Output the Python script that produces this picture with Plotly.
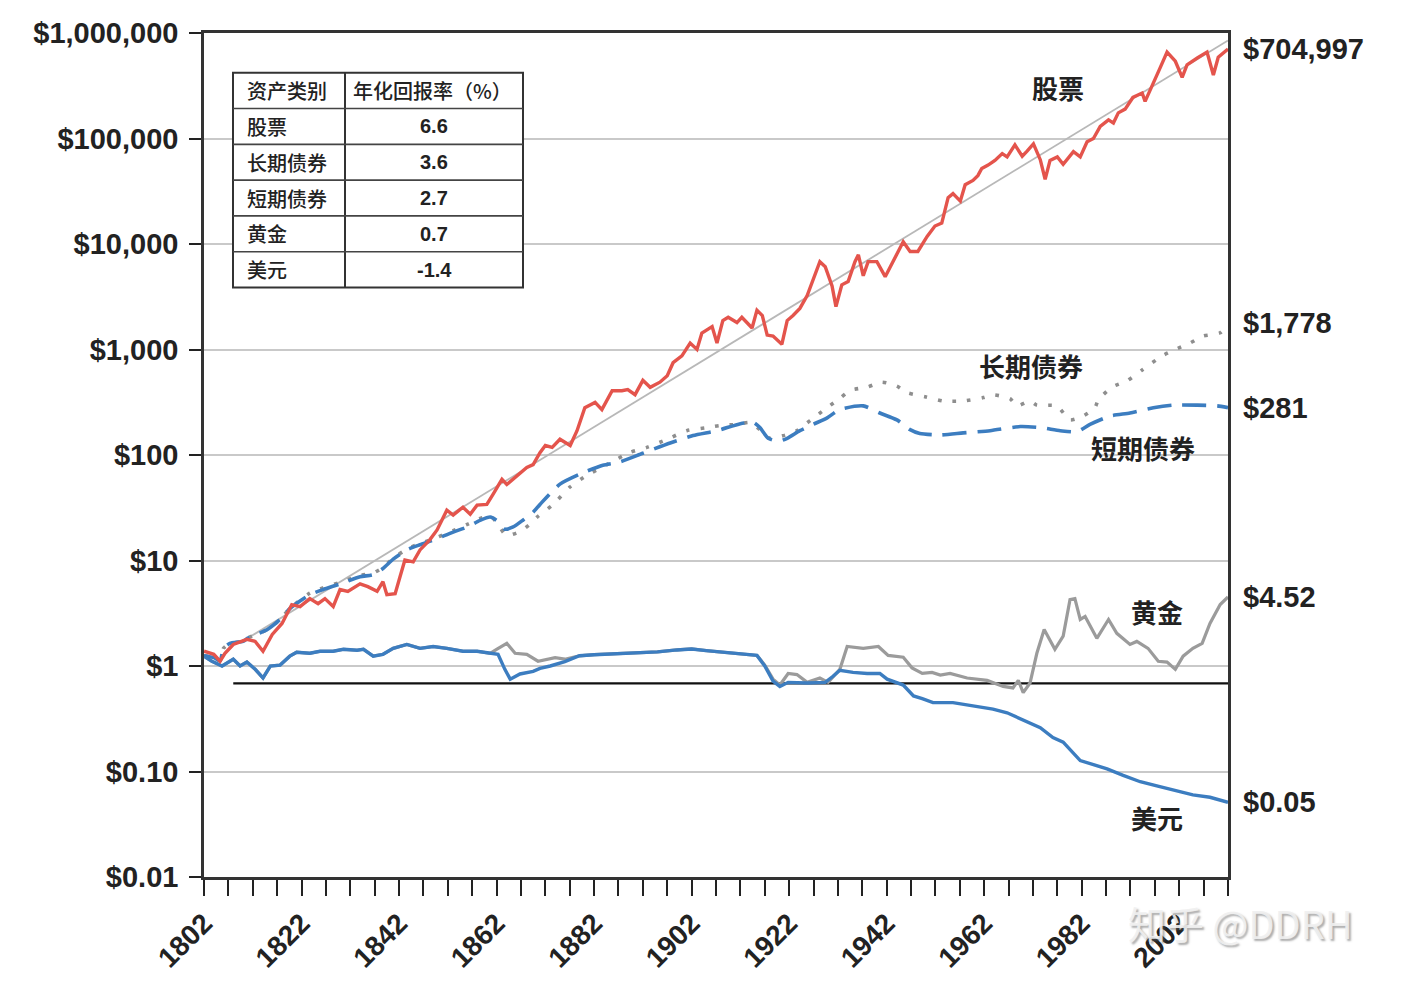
import math
import plotly.graph_objects as go

# ---------------- data ----------------
stock_years = [1802, 1804, 1805.3, 1806.3, 1808, 1810.8, 1812.5, 1814.1, 1816, 1818, 1820, 1821.7,
               1823.7, 1825.4, 1826.8, 1828.5, 1829.9, 1831.5, 1834, 1835.6, 1837.5, 1838.7, 1839.5,
               1841.2, 1842.2, 1843.2, 1844.9, 1846.3, 1848.3, 1849.8, 1851.8, 1853.1, 1855.1, 1856.6,
               1858, 1860, 1861.3, 1863.1, 1864.1, 1866.2, 1868.2, 1869.5, 1870.9, 1872, 1873.4, 1875,
               1877.1, 1878.5, 1880.1, 1882.2, 1883.6, 1885.7, 1887.7, 1888.9, 1890.4, 1892, 1893.5,
               1895.5, 1897, 1898.2, 1900, 1901.7, 1903.1, 1904.1, 1906.2, 1907.2, 1908.4, 1909.5,
               1911.3, 1912.3, 1914.4, 1915.4, 1916.5, 1917.5, 1918.7, 1920.5, 1921.6, 1922.8, 1924.2,
               1925.7, 1926.9, 1928.3, 1929.4, 1930.8, 1931.6, 1932.8, 1934.1, 1935.5, 1936.2, 1937.2,
               1938.2, 1940, 1941.7, 1943.3, 1945.4, 1946.8, 1948.4, 1950.3, 1951.9, 1953.3, 1954.6,
               1955.6, 1957.1, 1958.1, 1959.7, 1960.7, 1961.5, 1962.8, 1964.2, 1965.7, 1966.7, 1968.3,
               1969.8, 1970.8, 1972.1, 1973.5, 1974.5, 1975.5, 1977, 1978.2, 1980.3, 1981.7, 1983.1,
               1984.4, 1985.8, 1987.5, 1988.5, 1989.5, 1990.9, 1992.5, 1994.4, 1995, 1996.7, 1998.1,
               1999.5, 2001.2, 2002.6, 2003.6, 2005.7, 2007.7, 2009, 2010, 2012]
stock_values = [1.38, 1.29, 1.11, 1.32, 1.6, 1.79, 1.71, 1.38, 1.99, 2.53, 3.82, 3.66,
                4.35, 3.9, 4.35, 3.66, 5.3, 5.1, 6.0, 5.65, 5.1, 6.3, 4.74,
                4.85, 7.0, 10.1, 9.7, 12.6, 15.7, 19.5, 30, 27, 32, 27.5,
                33.5, 34, 42.5, 58.8, 52.5, 64, 76, 81, 105, 123, 118, 141,
                123, 170, 281, 315, 269, 407, 407, 417, 373, 510, 438,
                490, 565, 750, 870, 1150, 1000, 1430, 1650, 1150, 1880, 2020,
                1800, 2020, 1600, 2360, 2100, 1370, 1340, 1120, 1880, 2100, 2450,
                3250, 4500, 6800, 6100, 4000, 2550, 4100, 4400, 6800, 7900, 5000,
                6800, 6800, 4900, 6800, 10500, 8500, 8500, 11800, 14800, 15800, 27500,
                30000, 25500, 36500, 40000, 44500, 52000, 56000, 62000, 72000, 67000, 87000,
                68000, 76000, 89000, 63000, 41000, 62000, 67000, 57000, 75000, 67000, 93000,
                100000, 130000, 150000, 140000, 175000, 190000, 245000, 270000, 225000, 330000, 470000,
                660000, 540000, 380000, 500000, 580000, 660000, 400000, 590000, 704997]

lbond_years = [1802, 1804, 1805.3, 1806, 1807.3, 1810, 1811, 1815, 1817.6, 1819.6, 1823.7, 1826.4,
               1829.9, 1834, 1836.7, 1838.7, 1840.8, 1843.6, 1846.3, 1849, 1853.1, 1856, 1858.6,
               1860.7, 1862, 1864, 1866.8, 1868.6, 1870.3, 1873.6, 1877, 1880.5, 1884.6, 1889.4,
               1892.8, 1897, 1901, 1905.2, 1907.8, 1911.3, 1914, 1916, 1918, 1920.7, 1923.6, 1926.3,
               1929.5, 1932.6, 1934.5, 1938, 1941, 1944.1, 1946.2, 1949.9, 1953.6, 1957.7, 1961.8,
               1963.8, 1967.3, 1968.7, 1971.4, 1972.8, 1976.9, 1979.6, 1982.3, 1984.7, 1985.4, 1988.2,
               1991.3, 1994.4, 1998.5, 2001.2, 2004.2, 2006.9, 2010.4, 2012]
lbond_values = [1.25, 1.2, 1.12, 1.47, 1.64, 1.71, 1.84, 2.22, 2.76, 3.5, 4.9, 5.5,
                6.2, 7.2, 7.6, 8.6, 10.5, 12.8, 14.5, 16.0, 19.2, 22, 25,
                26.5, 23, 17.3, 18.8, 21.6, 25.8, 34, 49.5, 64, 81, 106,
                118, 141, 170, 182, 190, 195, 203, 174, 144, 152, 170, 212,
                275, 350, 410, 440, 490, 450, 390, 357, 325, 325, 350,
                372, 342, 292, 325, 297, 292, 215, 234, 280, 333, 440,
                505, 640, 870, 1000, 1150, 1340, 1440, 1778]

sbond_years = [1802, 1804, 1805.3, 1806, 1807.3, 1810, 1811, 1815, 1817.6, 1819.6, 1823.7, 1826.4,
               1829.9, 1834, 1836.7, 1838.7, 1840.8, 1843.6, 1846.3, 1849, 1853.1, 1856, 1858.6,
               1860.7, 1862, 1863.7, 1865.4, 1867.4, 1869.5, 1870.9, 1875, 1879.1, 1883.8, 1887.3,
               1892, 1897.6, 1902.3, 1907.2, 1912, 1914.7, 1916, 1917.7, 1919.8, 1921.6, 1924.2,
               1926.9, 1929.8, 1932.4, 1937.2, 1940.6, 1944.1, 1946.8, 1948.8, 1953, 1957.7, 1963.2,
               1969.4, 1973.5, 1977.6, 1981, 1983.7, 1987.8, 1991.9, 1996.7, 2000.7, 2005.7, 2009.8, 2012]
sbond_values = [1.25, 1.2, 1.12, 1.47, 1.64, 1.71, 1.84, 2.22, 2.76, 3.5, 4.74, 5.3,
                6.0, 7.0, 7.35, 8.4, 10.3, 12.6, 14.1, 15.6, 18.6, 20.8, 24,
                25.8, 24, 19.8, 20.8, 24.1, 28.7, 34, 53, 66, 80, 86,
                104, 130, 153, 170, 198, 203, 182, 144, 135, 144, 170,
                195, 225, 270, 292, 250, 215, 174, 160, 155, 162, 170,
                186, 182, 170, 166, 195, 234, 250, 280, 297, 297, 292, 281]

dollar_years = [1802, 1803.6, 1805.7, 1808, 1809.4, 1810.8, 1812.5, 1814.1, 1815.6, 1817.6, 1819.6,
                1821, 1823.7, 1825.8, 1828.5, 1830.6, 1833.4, 1834.7, 1836.7, 1838.7, 1840.8, 1843.6,
                1846.3, 1849, 1851.8, 1855.1, 1858, 1860.7, 1862.3, 1863.7, 1864.8, 1866.8, 1869.5,
                1870.9, 1873, 1876, 1879, 1882, 1886, 1890, 1895, 1899, 1902, 1905, 1908, 1911.9,
                1915.4, 1917, 1918.7, 1920.1, 1921.8, 1925.7, 1929.4, 1931, 1932.4, 1935.1, 1938,
                1940.6, 1942.1, 1945.4, 1947.5, 1949.3, 1951.5, 1955.6, 1959.1, 1963.8, 1966.7, 1970,
                1973.5, 1976.1, 1978.2, 1981.7, 1984.4, 1987.2, 1990.5, 1994, 1997.4, 2000.8, 2004.8,
                2008.3, 2012]
dollar_values = [1.24, 1.11, 1.0, 1.16, 1.0, 1.09, 0.93, 0.77, 1.0, 1.02, 1.24,
                 1.35, 1.32, 1.38, 1.38, 1.44, 1.41, 1.44, 1.24, 1.29, 1.47, 1.6,
                 1.47, 1.53, 1.47, 1.38, 1.38, 1.32, 1.29, 0.93, 0.75, 0.84, 0.89,
                 0.95, 1.0, 1.1, 1.25, 1.28, 1.3, 1.33, 1.36, 1.42, 1.45, 1.40, 1.36, 1.32,
                 1.26, 1.0, 0.72, 0.64, 0.70, 0.69, 0.70, 0.8, 0.91, 0.87, 0.85,
                 0.85, 0.75, 0.66, 0.52, 0.49, 0.45, 0.45, 0.42, 0.39, 0.36, 0.31,
                 0.26, 0.21, 0.19, 0.127, 0.116, 0.106, 0.092, 0.08, 0.073, 0.067, 0.06,
                 0.057, 0.051]

gold_years = [1802, 1803.6, 1805.7, 1808, 1809.4, 1810.8, 1812.5, 1814.1, 1815.6, 1817.6, 1819.6,
              1821, 1823.7, 1825.8, 1828.5, 1830.6, 1833.4, 1834.7, 1836.7, 1838.7, 1840.8, 1843.6,
              1846.3, 1849, 1851.8, 1855.1, 1858, 1860.7, 1862, 1864.1, 1865.8, 1868.2, 1870.5,
              1872, 1874, 1876, 1878, 1879, 1882, 1886, 1890, 1895, 1899, 1902, 1905, 1908, 1911.9,
              1915.4, 1917, 1918.7, 1920.1, 1921.8, 1923.6, 1925.7, 1928.3, 1930, 1932.4, 1933.9,
              1937.2, 1940.3, 1942.3, 1945.4, 1947.2, 1949.3, 1951.3, 1953, 1955, 1958.5, 1962.6,
              1965.9, 1967.9, 1969, 1970, 1971.4, 1972.8, 1974.3, 1976.5, 1978.2, 1979.6, 1980.6,
              1981.7, 1982.7, 1985.1, 1987.5, 1989.2, 1991.9, 1993.3, 1995.6, 1997.7, 1999.5, 2001.2,
              2002.8, 2004.8, 2006.7, 2008.3, 2010.4, 2012]
gold_values = [1.24, 1.11, 1.0, 1.16, 1.0, 1.09, 0.93, 0.77, 1.0, 1.02, 1.24,
               1.35, 1.32, 1.38, 1.38, 1.44, 1.41, 1.44, 1.24, 1.29, 1.47, 1.6,
               1.47, 1.53, 1.47, 1.38, 1.38, 1.32, 1.44, 1.64, 1.32, 1.29, 1.11,
               1.15, 1.2, 1.16, 1.22, 1.25, 1.28, 1.3, 1.33, 1.36, 1.42, 1.45, 1.40, 1.36, 1.32,
               1.26, 1.02, 0.75, 0.66, 0.85, 0.83, 0.70, 0.77, 0.70, 0.93, 1.53,
               1.47, 1.53, 1.26, 1.21, 0.96, 0.85, 0.87, 0.82, 0.85, 0.77, 0.73,
               0.64, 0.62, 0.73, 0.56, 0.69, 1.32, 2.22, 1.44, 1.92, 4.25, 4.35,
               2.76, 2.95, 1.83, 2.76, 2.04, 1.6, 1.71, 1.47, 1.11, 1.09, 0.93,
               1.24, 1.47, 1.64, 2.53, 3.82, 4.52]

trend_years = [1811, 2012]
trend_values = [1.84, 850000]

ref_years = [1808, 2012]
ref_values = [0.684, 0.684]

end_labels = ["$704,997", "$1,778", "$281", "$4.52", "$0.05"]
end_values = [704997, 1778, 281, 4.52, 0.051]

series_names = ["股票", "长期债券", "短期债券", "黄金", "美元"]
series_label_year = [1977.1, 1971.6, 1994.6, 1997.4, 1997.4]
series_label_value = [305000, 700, 118, 3.28, 0.0367]

y_tickvals = [0.01, 0.1, 1, 10, 100, 1000, 10000, 100000, 1000000]
y_ticktext = ["$0.01", "$0.10", "$1", "$10", "$100", "$1,000", "$10,000", "$100,000", "$1,000,000"]
x_label_years = [1802, 1822, 1842, 1862, 1882, 1902, 1922, 1942, 1962, 1982, 2002]

table_header = ["资产类别", "年化回报率（%）"]
table_assets = ["股票", "长期债券", "短期债券", "黄金", "美元"]
table_returns = ["6.6", "3.6", "2.7", "0.7", "-1.4"]

# ---------------- styling ----------------
RED = "#E4544C"
BLUE = "#3C7DC0"
GOLD = "#9B9B9B"
DOTS = "#8E8E8E"
TREND = "#B8B8B8"
TXT = "#222222"
LATIN = "Liberation Sans, Arial, Noto Sans CJK SC, sans-serif"
CJK = "Noto Sans CJK SC, Liberation Sans, sans-serif"

W, H = 1401, 986
L, R, T, B = 204, 173, 33, 104
PW, PH = W - L - R, H - T - B


def px(xp):
    return (xp - L) / PW


def py(yp):
    return (T + PH - yp) / PH


fig = go.Figure()

fig.add_trace(go.Scatter(x=ref_years, y=ref_values, mode="lines",
                         line=dict(color="#111111", width=2.2), hoverinfo="skip"))
fig.add_trace(go.Scatter(x=trend_years, y=trend_values, mode="lines",
                         line=dict(color=TREND, width=1.8), hoverinfo="skip"))
fig.add_trace(go.Scatter(x=gold_years, y=gold_values, mode="lines",
                         line=dict(color=GOLD, width=3.2), name="黄金"))
fig.add_trace(go.Scatter(x=dollar_years, y=dollar_values, mode="lines",
                         line=dict(color=BLUE, width=3.4), name="美元"))
fig.add_trace(go.Scatter(x=lbond_years, y=lbond_values, mode="lines",
                         line=dict(color=DOTS, width=3.6, dash="3.6px,11px", shape="spline", smoothing=0.6),
                         name="长期债券"))
fig.add_trace(go.Scatter(x=sbond_years, y=sbond_values, mode="lines",
                         line=dict(color=BLUE, width=3.6, dash="24px,11px", shape="spline", smoothing=0.6),
                         name="短期债券"))
fig.add_trace(go.Scatter(x=stock_years, y=stock_values, mode="lines",
                         line=dict(color=RED, width=3.4), name="股票"))

annotations = []
for lab, v in zip(end_labels, end_values):
    annotations.append(dict(x=1, xref="paper", y=math.log10(v), yref="y", text=lab,
                            xanchor="left", yanchor="middle", xshift=13, showarrow=False,
                            font=dict(family=LATIN, size=29, color=TXT, weight="bold")))
for name, yr, v in zip(series_names, series_label_year, series_label_value):
    annotations.append(dict(x=yr, y=math.log10(v), text=name, showarrow=False,
                            xanchor="center", yanchor="middle",
                            font=dict(family=CJK, size=26, color=TXT, weight="bold")))

# table
tx0, tx1, tcol = 233, 523, 345
row_top = 73
row_h = 36
nrows = 1 + len(table_assets)
shapes = []
shapes.append(dict(type="rect", xref="paper", yref="paper", x0=px(tx0), x1=px(tx1),
                   y0=py(row_top + nrows * row_h), y1=py(row_top),
                   fillcolor="white", line=dict(color="#333333", width=2), layer="above"))
shapes.append(dict(type="line", xref="paper", yref="paper", x0=px(tcol), x1=px(tcol),
                   y0=py(row_top + nrows * row_h), y1=py(row_top),
                   line=dict(color="#333333", width=2), layer="above"))
for i in range(1, nrows):
    shapes.append(dict(type="line", xref="paper", yref="paper", x0=px(tx0), x1=px(tx1),
                       y0=py(row_top + i * row_h), y1=py(row_top + i * row_h),
                       line=dict(color="#444444", width=1.6), layer="above"))

cells = [table_header] + [[a, r] for a, r in zip(table_assets, table_returns)]
for i, (c1, c2) in enumerate(cells):
    yc = py(row_top + (i + 0.5) * row_h)
    annotations.append(dict(x=px(tx0 + 12), xref="paper", y=yc, yref="paper", text=c1,
                            xanchor="left", yanchor="middle", showarrow=False,
                            font=dict(family=CJK, size=20, color=TXT, weight=500)))
    if i == 0:
        annotations.append(dict(x=px(tcol + 6), xref="paper", y=yc, yref="paper", text=c2,
                                xanchor="left", yanchor="middle", showarrow=False,
                                font=dict(family=CJK, size=20, color=TXT, weight=500)))
    else:
        annotations.append(dict(x=px((tcol + tx1) / 2), xref="paper", y=yc, yref="paper", text=c2,
                                xanchor="center", yanchor="middle", showarrow=False,
                                font=dict(family=LATIN, size=20, color=TXT, weight="bold")))

# watermark
annotations.append(dict(x=px(1240), xref="paper", y=py(928), yref="paper", text="知乎 @DDRH",
                        xanchor="center", yanchor="middle", showarrow=False,
                        font=dict(family=CJK, size=38, color="rgba(240,240,240,0.92)",
                                  shadow="2px 2px 2px rgba(90,90,90,0.55)")))

x_tickvals = list(range(1802, 2013, 5))
x_ticktext = [str(v) if v in x_label_years else "" for v in x_tickvals]

fig.update_layout(
    width=W, height=H,
    margin=dict(l=L, r=R, t=T, b=B),
    paper_bgcolor="white", plot_bgcolor="white",
    showlegend=False,
    annotations=annotations,
    shapes=shapes,
    xaxis=dict(range=[1802, 2012], tickmode="array", tickvals=x_tickvals, ticktext=x_ticktext,
               ticks="outside", ticklen=16, tickwidth=2, tickcolor="#222222",
               tickangle=-45, tickfont=dict(family=LATIN, size=28, color=TXT, weight="bold"),
               showgrid=False, zeroline=False, showline=True, linecolor="#333333", linewidth=2.5,
               mirror=True),
    yaxis=dict(type="log", range=[-2, 6], tickmode="array", tickvals=y_tickvals, ticktext=y_ticktext,
               ticks="outside", ticklen=12, tickwidth=2, tickcolor="#222222",
               ticklabelstandoff=5,
               tickfont=dict(family=LATIN, size=29, color=TXT, weight="bold"),
               showgrid=True, gridcolor="#C9C9C9", gridwidth=1.5, zeroline=False,
               showline=True, linecolor="#333333", linewidth=2.5, mirror=True),
)

fig.write_html("out.html", config={"displayModeBar": False},
               post_script="document.body.style.margin='0';")
